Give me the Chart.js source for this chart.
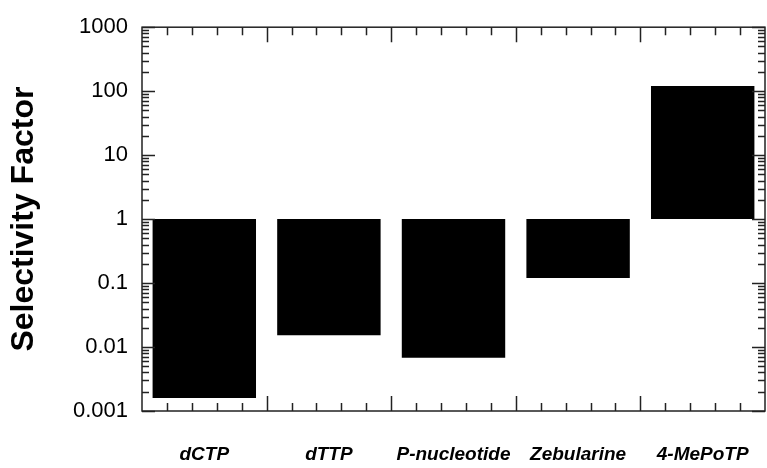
<!DOCTYPE html>
<html>
<head>
    <style>
        html, body { margin: 0; padding: 0; background: #fff; }
        #wrap { width: 767px; height: 468px; }
    </style>
    <script src="https://cdn.jsdelivr.net/npm/chart.js"></script>
</head>
<body>
    <div id="wrap"><canvas id="myChart" width="767" height="468"></canvas></div>
    <script>
        const categories = ['dCTP', 'dTTP', 'P-nucleotide', 'Zebularine', '4-MePoTP'];
        const baseline = 1;
        const selectivity = [0.0016, 0.0153, 0.0068, 0.12, 120];
        const yTicks = [0.001, 0.01, 0.1, 1, 10, 100, 1000];
        const yTickLabels = ['0.001', '0.01', '0.1', '1', '10', '100', '1000'];

        // frame + inward ticks on all four sides, like the original plot
        const framePlugin = {
            id: 'frame',
            afterDatasetsDraw(chart) {
                const { ctx, chartArea: a, scales } = chart;
                const x = scales.x, y = scales.y;
                ctx.save();
                ctx.strokeStyle = '#222';
                ctx.lineWidth = 1.5;
                ctx.beginPath();
                // y ticks (log: major at decades, minor at 2..9)
                for (let d = 0; d < yTicks.length; d++) {
                    const dec = yTicks[d];
                    const steps = d === yTicks.length - 1 ? [1] : [1, 2, 3, 4, 5, 6, 7, 8, 9];
                    steps.forEach(k => {
                        const py = Math.round(y.getPixelForValue(k * dec)) + 0.5;
                        const len = k === 1 ? 13 : 7;
                        ctx.moveTo(a.left, py); ctx.lineTo(a.left + len, py);
                        ctx.moveTo(a.right, py); ctx.lineTo(a.right - len, py);
                    });
                }
                // x ticks: major at category edges, 4 minor in between
                for (let i = 0; i < categories.length; i++) {
                    for (let j = 0; j < 5; j++) {
                        if (i === 0 && j === 0) continue;
                        const px = Math.round(x.getPixelForValue(i - 0.5 + j / 5)) + 0.5;
                        const len = j === 0 ? 15 : 8;
                        ctx.moveTo(px, a.bottom); ctx.lineTo(px, a.bottom - len);
                        ctx.moveTo(px, a.top); ctx.lineTo(px, a.top + len);
                    }
                }
                ctx.stroke();
                ctx.strokeRect(a.left, a.top, a.right - a.left, a.bottom - a.top);
                ctx.restore();
            }
        };

        const ctx = document.getElementById('myChart');
        const chart = new Chart(ctx, {
            type: 'bar',
            data: {
                labels: categories,
                datasets: [{
                    label: 'Selectivity Factor',
                    data: selectivity.map(v => [baseline, v]),
                    backgroundColor: '#000',
                    borderWidth: 0,
                    categoryPercentage: 1,
                    barPercentage: 0.83
                }]
            },
            options: {
                responsive: false,
                animation: false,
                layout: { padding: { top: 26, right: 2, left: 0, bottom: 0 } },
                plugins: {
                    legend: { display: false },
                    tooltip: { enabled: false }
                },
                scales: {
                    x: {
                        grid: { display: false, drawTicks: false },
                        border: { display: false },
                        ticks: {
                            color: '#000',
                            padding: 32,
                            maxRotation: 0,
                            font: { family: 'Liberation Sans', size: 19, style: 'italic', weight: 'bold' }
                        },
                        afterFit: s => {
                            s.height = 57;
                            s.paddingLeft = 0;
                            s.paddingRight = 0;
                        }
                    },
                    y: {
                        type: 'logarithmic',
                        min: 0.001,
                        max: 1000,
                        grid: { display: false, drawTicks: false },
                        border: { display: false },
                        afterBuildTicks: s => { s.ticks = yTicks.map(v => ({ value: v })); },
                        ticks: {
                            color: '#000',
                            padding: 14,
                            autoSkip: false,
                            font: { family: 'Liberation Sans', size: 22 },
                            callback: (v, i) => yTickLabels[i]
                        },
                        title: {
                            display: true,
                            text: 'Selectivity Factor',
                            color: '#000',
                            padding: { top: 5, bottom: 0 },
                            font: { family: 'Liberation Sans', size: 32, weight: 'bold' }
                        },
                        afterFit: s => { s.width = 142; }
                    }
                }
            },
            plugins: [framePlugin]
        });
    </script>
</body>
</html>
